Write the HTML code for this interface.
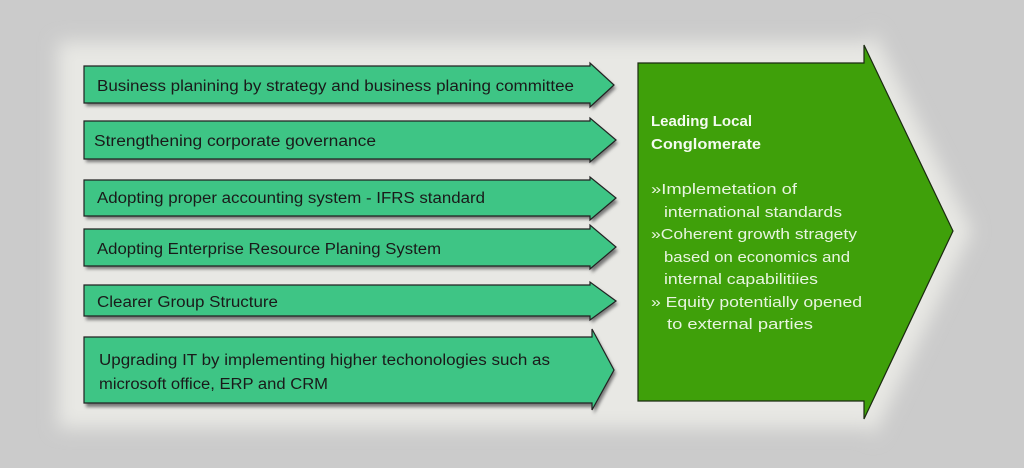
<!DOCTYPE html>
<html><head><meta charset="utf-8"><style>
html,body{margin:0;padding:0;background:#cbcbcb;}
svg{display:block;}
.t{font-family:"Liberation Sans",sans-serif;font-size:15.5px;fill:#1a1a1a;}
.w{font-family:"Liberation Sans",sans-serif;font-size:15px;fill:#e8f5e0;}
.wb{font-family:"Liberation Sans",sans-serif;font-size:15px;font-weight:bold;fill:#f4fbf0;}
</style></head><body>
<svg width="1024" height="468" viewBox="0 0 1024 468" xmlns="http://www.w3.org/2000/svg">
<defs>
<filter id="b" x="-10%" y="-10%" width="120%" height="120%"><feGaussianBlur stdDeviation="9"/></filter>
<filter id="s" x="-5%" y="-20%" width="110%" height="150%"><feGaussianBlur stdDeviation="1.5"/></filter>
</defs>
<rect width="1024" height="468" fill="#cbcbcb"/>
<polygon points="58,42 872,42 872,28 972,231 872,440 872,428 58,428" fill="#e8e8e4" filter="url(#b)"/>
<g stroke="#222" stroke-width="1.2" fill="#3ec585">
<g>
<polygon points="86,70 592,70 592,66 616,88 592,110 592,106 86,106" fill="#777" stroke="none" filter="url(#s)"/>
<polygon points="84,66 590,66 590,63 614,85 590,107 590,103 84,103"/>
</g>
<g>
<polygon points="86,125 592,125 592,122 618,143 592,165 592,162 86,162" fill="#777" stroke="none" filter="url(#s)"/>
<polygon points="84,121 590,121 590,118 616,140 590,162 590,159 84,159"/>
</g>
<g>
<polygon points="86,184 592,184 592,181 618,202 592,223 592,219 86,219" fill="#777" stroke="none" filter="url(#s)"/>
<polygon points="84,180 590,180 590,177 616,198 590,220 590,216 84,216"/>
</g>
<g>
<polygon points="86,233 592,233 592,229 618,251 592,273 592,269 86,269" fill="#777" stroke="none" filter="url(#s)"/>
<polygon points="84,229 590,229 590,225 616,247 590,269 590,266 84,266"/>
</g>
<g>
<polygon points="86,288 592,288 592,285 618,304 592,323 592,320 86,320" fill="#777" stroke="none" filter="url(#s)"/>
<polygon points="84,285 590,285 590,282 616,301 590,320 590,316 84,316"/>
</g>
<g>
<polygon points="86,341 594,341 594,333 616,373 594,414 594,407 86,407" fill="#777" stroke="none" filter="url(#s)"/>
<polygon points="84,337 592,337 592,329 614,370 592,410 592,403 84,403"/>
</g>
</g>
<text class="t" x="97" y="91" textLength="477" lengthAdjust="spacingAndGlyphs">Business planining by strategy and business planing committee</text>
<text class="t" x="94" y="146" textLength="282" lengthAdjust="spacingAndGlyphs">Strengthening corporate governance</text>
<text class="t" x="97" y="203" textLength="388" lengthAdjust="spacingAndGlyphs">Adopting proper accounting system - IFRS standard</text>
<text class="t" x="97" y="254" textLength="344" lengthAdjust="spacingAndGlyphs">Adopting Enterprise Resource Planing System</text>
<text class="t" x="97" y="307" textLength="181" lengthAdjust="spacingAndGlyphs">Clearer Group Structure</text>
<text class="t" x="99" y="365" textLength="451" lengthAdjust="spacingAndGlyphs">Upgrading IT by implementing higher techonologies such as</text>
<text class="t" x="99" y="389" textLength="229" lengthAdjust="spacingAndGlyphs">microsoft office, ERP and CRM</text>
<polygon points="638,63 864,63 864,45 953,231 864,419 864,401 638,401" fill="#3fa00a" stroke="#1a2a10" stroke-width="1.2"/>
<text class="wb" x="651" y="126" textLength="101" lengthAdjust="spacingAndGlyphs">Leading Local</text>
<text class="wb" x="651" y="149" textLength="110" lengthAdjust="spacingAndGlyphs">Conglomerate</text>
<text class="w" x="651" y="194" textLength="146" lengthAdjust="spacingAndGlyphs">»Implemetation of</text>
<text class="w" x="664" y="217" textLength="178" lengthAdjust="spacingAndGlyphs">international standards</text>
<text class="w" x="651" y="239" textLength="206" lengthAdjust="spacingAndGlyphs">»Coherent growth stragety</text>
<text class="w" x="664" y="262" textLength="186" lengthAdjust="spacingAndGlyphs">based on economics and</text>
<text class="w" x="664" y="284" textLength="154" lengthAdjust="spacingAndGlyphs">internal capabilitiies</text>
<text class="w" x="651" y="307" textLength="211" lengthAdjust="spacingAndGlyphs">» Equity potentially opened</text>
<text class="w" x="667" y="329" textLength="146" lengthAdjust="spacingAndGlyphs">to   external parties</text>
</svg>
</body></html>
